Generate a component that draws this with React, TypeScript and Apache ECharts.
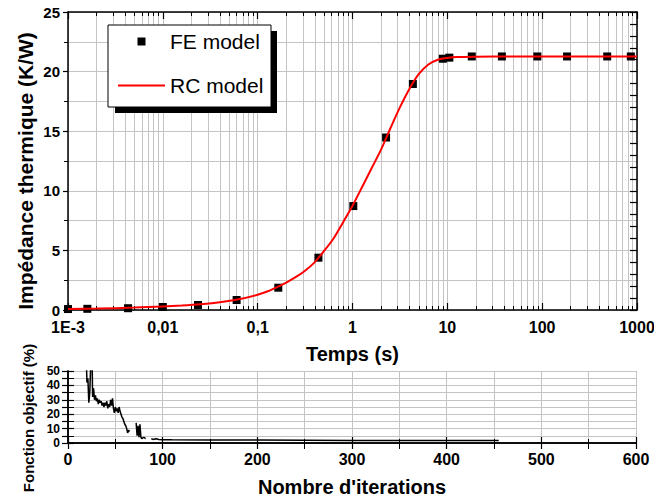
import React, { useEffect, useRef } from 'react';
import * as echarts from 'echarts';

const FONT = "'Liberation Sans', Arial, Helvetica, sans-serif";
const GRID_GRAY = '#c4c4c4';

// ---- Top chart: thermal impedance vs time ----
const decades = [0.001, 0.01, 0.1, 1, 10, 100, 1000];
const xTickLabels = ['1E-3', '0,01', '0,1', '1', '10', '100', '1000'];
const minorMultipliers = [2, 3, 4, 5, 6, 7, 8, 9];

const feTime = [0.001, 0.0016, 0.0043, 0.01, 0.0235, 0.06, 0.165, 0.437, 1.02, 2.26, 4.33, 8.97, 10.5, 18.1, 37.6, 89, 183, 485, 861];
const feZth = [0.08, 0.1, 0.15, 0.25, 0.42, 0.84, 1.87, 4.39, 8.72, 14.47, 18.96, 21.08, 21.17, 21.27, 21.27, 21.27, 21.27, 21.27, 21.27];

const rcTime = [0.001, 0.002, 0.005, 0.01, 0.0158, 0.0251, 0.0398, 0.0631, 0.1, 0.126, 0.158, 0.2, 0.251, 0.316, 0.398, 0.501, 0.631, 0.794,
  1.0, 1.26, 1.58, 2.0, 2.51, 3.16, 3.98, 5.01, 6.31, 7.94, 10, 12.6, 20, 50, 1000];
const rcZth = [0.08, 0.12, 0.2, 0.3, 0.38, 0.49, 0.65, 0.9, 1.28, 1.55, 1.9, 2.3, 2.75, 3.3, 4.0, 4.95, 6.0, 7.35,
  8.75, 10.3, 11.85, 13.45, 15.25, 17.0, 18.55, 19.8, 20.6, 21.0, 21.15, 21.22, 21.25, 21.27, 21.27];

// ---- Bottom chart: objective function vs iterations ----
const iterX = [19, 19.5, 20, 21, 22, 23, 24, 25.5,
  26, 27, 28, 29, 30, 31, 32, 33, 34, 35,
  36, 37, 38, 39, 40, 41, 42, 43, 44, 45,
  46, 47, 48, 49, 50, 51, 52, 53, 54, 55,
  56, 57, 58, 59, 60, 61, 62, 63, 64, 65,
  68, 72, 73, 74, 75, 76, 77, 78, 80, 82, 85, 88, 90, 93, 96, 100,
  110, 150, 200, 250, 300, 350, 400, 455];
const iterObj = [58, 55, 42, 45, 28, 35, 55, 55,
  32, 38, 30, 33, 29, 31, 27, 30, 28, 29,
  26, 28, 25, 28, 26, 29, 24, 27, 25, 30,
  26, 31, 24, 21, 25, 22, 24, 21, 25, 22,
  20, 18, 17, 15, 13, 12, 10, 7, 9, 8,
  null, 14, 5, 12, 4, 13, 4, 3, 4, 3, null, 3, 2.5, 3, 2.4, 2.3,
  2.2, 2.1, 2.0, 1.9, 1.8, 1.8, 1.7, 1.7];

const minorValues = decades.slice(0, -1).flatMap((d) => minorMultipliers.map((k) => +(d * k).toPrecision(3)));

function decadeLabel(v: number): string {
  const i = decades.findIndex((d) => Math.abs(Math.log10(v) - Math.log10(d)) < 1e-6);
  return i >= 0 ? xTickLabels[i] : '';
}

const axisLineStyle = { show: true, lineStyle: { color: '#000', width: 1.5 } };

export default function App() {
  const ref = useRef<HTMLDivElement>(null);
  useEffect(() => {
    if (!ref.current) return;
    const chart = echarts.init(ref.current, null, { renderer: 'svg' });
    const logBase = { type: 'log', logBase: 10, min: 0.001, max: 1000, gridIndex: 0 };
    const option: any = {
      animation: false,
      backgroundColor: '#fff',
      textStyle: { fontFamily: FONT },
      grid: [
        { left: 68, top: 12, width: 569, height: 298, outerBoundsMode: 'none', containLabel: false },
        { left: 68, top: 371, width: 568, height: 72, outerBoundsMode: 'none', containLabel: false },
      ],
      xAxis: [
        {
          ...logBase, position: 'bottom',
          name: 'Temps (s)', nameLocation: 'middle', nameGap: 34,
          nameTextStyle: { fontFamily: FONT, fontWeight: 'bold', fontSize: 20, color: '#000' },
          axisLine: axisLineStyle,
          axisTick: { show: true, inside: true, length: 7, lineStyle: { color: '#000', width: 1.2 }, customValues: decades },
          axisLabel: { show: true, customValues: decades, formatter: (v: number) => decadeLabel(v), fontFamily: FONT, fontWeight: 'bold', fontSize: 16, color: '#000', margin: 9, showMinLabel: true, showMaxLabel: true, hideOverlap: false },
          splitLine: { show: true, lineStyle: { color: GRID_GRAY, width: 1 } },
        },
        {
          ...logBase, position: 'bottom',
          axisLine: { show: false },
          axisTick: { show: true, inside: true, length: 4, lineStyle: { color: '#000', width: 1 }, customValues: minorValues },
          axisLabel: { show: false },
          splitLine: { show: true, lineStyle: { color: GRID_GRAY, width: 1 } },
        },
        {
          ...logBase, position: 'top',
          axisLine: axisLineStyle,
          axisTick: { show: true, inside: true, length: 7, lineStyle: { color: '#000', width: 1.2 }, customValues: decades },
          axisLabel: { show: false },
          splitLine: { show: false },
        },
        {
          ...logBase, position: 'top',
          axisLine: { show: false },
          axisTick: { show: true, inside: true, length: 4, lineStyle: { color: '#000', width: 1 }, customValues: minorValues },
          axisLabel: { show: false },
          splitLine: { show: false },
        },
        {
          type: 'value', gridIndex: 1, min: 0, max: 600, interval: 100, position: 'bottom',
          name: "Nombre d'iterations", nameLocation: 'middle', nameGap: 34,
          nameTextStyle: { fontFamily: FONT, fontWeight: 'bold', fontSize: 20, color: '#000' },
          axisLine: axisLineStyle,
          axisTick: { show: true, inside: true, length: 6, lineStyle: { color: '#000', width: 1.2 } },
          minorTick: { show: true, splitNumber: 2, length: 4, lineStyle: { color: '#000', width: 1 } },
          axisLabel: { fontFamily: FONT, fontWeight: 'bold', fontSize: 16, color: '#000', margin: 8, showMinLabel: true, showMaxLabel: true, hideOverlap: false },
          splitLine: { show: true, lineStyle: { color: GRID_GRAY, width: 1 } },
          minorSplitLine: { show: true, lineStyle: { color: GRID_GRAY, width: 1 } },
        },
        {
          type: 'value', gridIndex: 1, min: 0, max: 600, interval: 100, position: 'top',
          axisLine: axisLineStyle,
          axisTick: { show: true, inside: true, length: 6, lineStyle: { color: '#000', width: 1.2 } },
          minorTick: { show: true, splitNumber: 2, length: 6, lineStyle: { color: '#000', width: 1 } },
          axisLabel: { show: false },
          splitLine: { show: false },
        },
      ],
      yAxis: [
        {
          type: 'value', gridIndex: 0, min: 0, max: 25, interval: 5, position: 'left',
          axisLine: axisLineStyle,
          axisTick: { show: true, inside: false, length: 5, lineStyle: { color: '#000', width: 1.2 } },
          minorTick: { show: true, splitNumber: 2, length: 4, lineStyle: { color: '#000', width: 1 } },
          axisLabel: { fontFamily: FONT, fontWeight: 'bold', fontSize: 15, color: '#000', margin: 8, showMinLabel: true, showMaxLabel: true, hideOverlap: false },
          splitLine: { show: true, lineStyle: { color: GRID_GRAY, width: 1 } },
          minorSplitLine: { show: true, lineStyle: { color: GRID_GRAY, width: 1 } },
        },
        {
          type: 'value', gridIndex: 0, min: 0, max: 25, interval: 1, position: 'right',
          axisLine: axisLineStyle,
          axisTick: { show: true, inside: true, length: 7, lineStyle: { color: '#000', width: 1.2 } },
          axisLabel: { show: false },
          splitLine: { show: false },
        },
        {
          type: 'value', gridIndex: 1, min: 0, max: 50, interval: 10, position: 'left',
          axisLine: axisLineStyle,
          axisTick: { show: true, inside: true, length: 6, lineStyle: { color: '#000', width: 1.2 } },
          minorTick: { show: true, splitNumber: 2, length: 6, lineStyle: { color: '#000', width: 1 } },
          axisLabel: { fontFamily: FONT, fontWeight: 'bold', fontSize: 12, lineHeight: 12, color: '#000', margin: 8, showMinLabel: true, showMaxLabel: true, hideOverlap: false },
          splitLine: { show: true, lineStyle: { color: GRID_GRAY, width: 1 } },
          minorSplitLine: { show: true, lineStyle: { color: GRID_GRAY, width: 1 } },
        },
        {
          type: 'value', gridIndex: 1, min: 0, max: 50, interval: 5, position: 'right',
          axisLine: axisLineStyle,
          axisTick: { show: true, inside: true, length: 6, lineStyle: { color: '#000', width: 1.2 } },
          axisLabel: { show: false },
          splitLine: { show: false },
        },
      ],
      legend: {
        orient: 'vertical', left: 118, top: 31, padding: 0, itemWidth: 47, itemHeight: 8, itemGap: 23,
        selectedMode: false, z: 10,
        textStyle: { fontFamily: FONT, fontSize: 21, color: '#000' },
        data: [
          { name: 'FE model', icon: 'path://M0,0L10,0L10,10L0,10Z', itemStyle: { color: '#000', opacity: 1 } },
          { name: 'RC model', icon: 'path://M0,0L47,0L47,2L0,2Z', itemStyle: { color: '#ff0000', opacity: 1 } },
        ],
      },
      graphic: {
        elements: [
          { type: 'rect', z: 5, shape: { x: 115, y: 31, width: 162, height: 82 }, style: { fill: '#000' } },
          { type: 'rect', z: 6, shape: { x: 108, y: 25, width: 163, height: 82 }, style: { fill: '#fff', stroke: '#000', lineWidth: 1 } },
          {
            type: 'text', z: 6, x: 25, y: 171, rotation: Math.PI / 2,
            style: { text: 'Impédance thermique (K/W)', font: `bold 21px ${FONT}`, fill: '#000', align: 'center', verticalAlign: 'middle', textAlign: 'center', textVerticalAlign: 'middle' },
          },
          {
            type: 'text', z: 6, x: 28, y: 418, rotation: Math.PI / 2,
            style: { text: 'Fonction objectif (%)', font: `bold 15px ${FONT}`, fill: '#000', align: 'center', verticalAlign: 'middle', textAlign: 'center', textVerticalAlign: 'middle' },
          },
        ],
      },
      series: [
        {
          name: 'FE model', type: 'scatter', xAxisIndex: 0, yAxisIndex: 0, z: 2,
          symbol: 'rect', symbolSize: 8, itemStyle: { color: '#000', opacity: 1 },
          data: feTime.map((t, i) => [t, feZth[i]]),
        },
        {
          name: 'RC model', type: 'line', xAxisIndex: 0, yAxisIndex: 0, z: 3,
          symbol: 'none', showSymbol: false, smooth: 0.3,
          lineStyle: { color: '#ff0000', width: 2 }, itemStyle: { color: '#ff0000' },
          data: rcTime.map((t, i) => [t, rcZth[i]]),
        },
        {
          name: 'Fonction objectif', type: 'line', xAxisIndex: 4, yAxisIndex: 2, z: 3,
          symbol: 'none', showSymbol: false, clip: true, connectNulls: false,
          lineStyle: { color: '#000', width: 1.5 },
          data: iterX.map((x, i) => [x, iterObj[i] === null ? '-' : iterObj[i]]),
        },
      ],
    };
    chart.setOption(option);
    return () => chart.dispose();
  }, []);
  return <div ref={ref} style={{ position: 'fixed', left: 0, top: 0, width: 654, height: 499 }} />;
}
